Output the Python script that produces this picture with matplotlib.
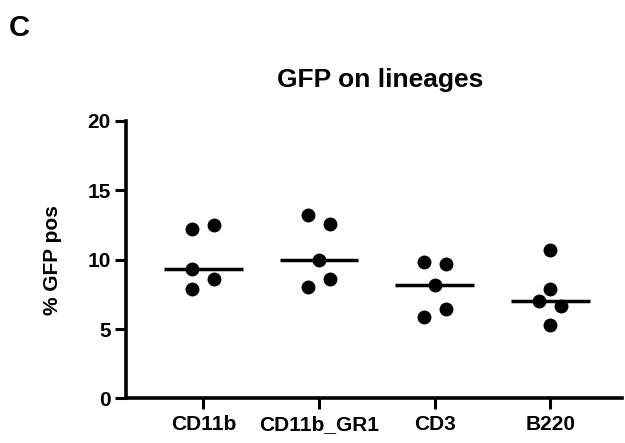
import matplotlib
matplotlib.use("Agg")
import matplotlib.pyplot as plt
import numpy as np

plt.rcParams["font.family"] = ["Liberation Sans", "DejaVu Sans"]
plt.rcParams["font.weight"] = "bold"

groups = ["CD11b", "CD11b_GR1", "CD3", "B220"]
cd11b = [12.24, 12.48, 9.35, 8.6, 7.9]
cd11b_gr1 = [13.23, 12.6, 9.95, 8.6, 8.05]
cd3 = [9.86, 9.66, 8.21, 6.48, 5.86]
b220 = [10.72, 7.9, 7.06, 6.65, 5.32]
values = [cd11b, cd11b_gr1, cd3, b220]

# horizontal spread of the dots within each column
d = 0.095
spread = [
    [-d, d, -d, d, -d],
    [-d, d, 0, d, -d],
    [-d, d, 0, d, -d],
    [0, 0, -d, d, 0],
]

fig = plt.figure(figsize=(6.25, 4.43), dpi=100)
ax = fig.add_axes([0.2016, 0.1005, 0.7934, 0.6265])

for i, vals in enumerate(values):
    xs = i + np.array(spread[i])
    ax.scatter(xs, vals, s=100, color="black", zorder=3, linewidths=0)
    med = np.median(vals)
    ax.plot([i - 0.34, i + 0.34], [med, med], color="black", lw=2.5,
            solid_capstyle="butt", zorder=2)

ax.set_xlim(-0.67, 3.62)
ax.set_ylim(0, 20)
ax.set_yticks([0, 5, 10, 15, 20])
ax.set_xticks(range(len(groups)))
ax.set_xticklabels(groups)

for side in ["top", "right"]:
    ax.spines[side].set_visible(False)
for side in ["left", "bottom"]:
    ax.spines[side].set_linewidth(2.6)
ax.tick_params(axis="both", width=2.2, length=8, labelsize=15)
ax.tick_params(axis="y", pad=3)
ax.tick_params(axis="x", pad=4)
for lab in ax.get_xticklabels() + ax.get_yticklabels():
    lab.set_fontweight("bold")

ax.set_ylabel("% GFP pos", fontsize=15, fontweight="bold", labelpad=18)
fig.text(380 / 625, 1 - 87 / 443, "GFP on lineages", fontsize=19,
         fontweight="bold", ha="center", va="baseline")
fig.text(9 / 625, 1 - 36 / 443, "C", fontsize=21, fontweight="bold",
         ha="left", va="baseline")

fig.savefig("out.png", dpi=100)
